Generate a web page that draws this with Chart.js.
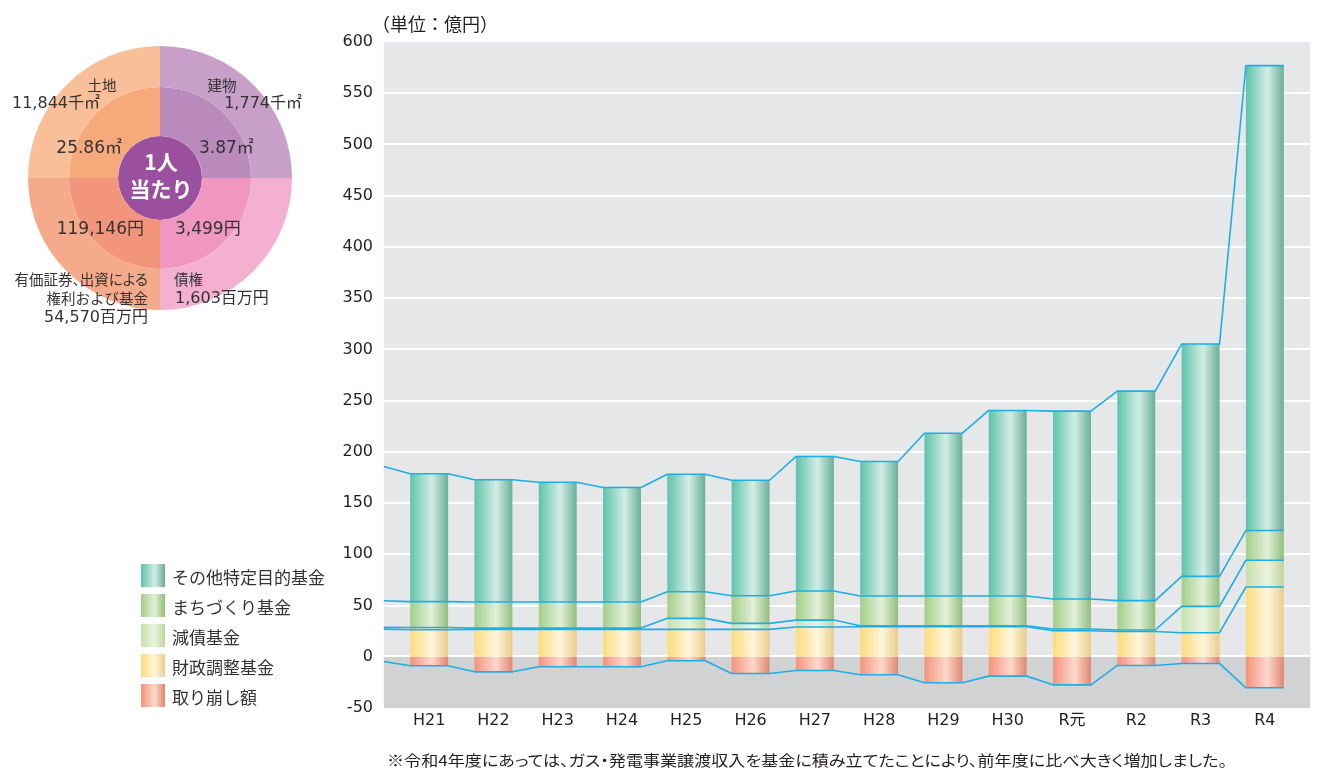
<!DOCTYPE html>
<html><head><meta charset="utf-8">
<script src="https://cdn.jsdelivr.net/npm/chart.js@4.4.1/dist/chart.umd.min.js"></script>
<style>
html,body{margin:0;padding:0;background:#fff;width:1318px;height:769px;overflow:hidden;}
#wrap{position:relative;width:1318px;height:769px;}
#main{position:absolute;left:0;top:0;}
#donutWrap{position:absolute;left:28px;top:46px;width:264px;height:264px;}
.t{position:absolute;white-space:nowrap;color:#333;font-family:"DejaVu Sans","Noto Sans CJK JP",sans-serif;line-height:1;}
.cj{font-family:"Noto Sans CJK JP",sans-serif;}
.palt{font-feature-settings:"palt";}
.sw{position:absolute;width:24px;height:23px;}
</style></head><body>
<div id="wrap">
<canvas id="main" width="1318" height="769"></canvas>
<div id="donutWrap"><canvas id="donut" width="264" height="264"></canvas></div>
<div id="labels"></div>
</div>
<script>
// ---- bar chart data (億円) ----
const years = ['H21','H22','H23','H24','H25','H26','H27','H28','H29','H30','R元','R2','R3','R4'];
const fiscalAdjust  = [26.3,26.7,26.7,26.7,26.7,26.7,29.0,29.3,29.3,29.3,25.4,24.7,23.5,68.1];
const debtReduction = [2.3,1.3,1.3,1.3,10.8,5.9,6.8,1.0,1.0,1.0,1.7,1.4,25.7,26.1];
const townDev       = [25.2,25.5,25.5,25.5,26.0,27.0,28.4,29.0,29.0,29.0,29.3,28.7,29.3,29.0];
const otherFunds    = [124.8,119.2,116.8,111.7,114.7,112.7,131.2,131.3,158.9,181.1,183.3,204.5,226.7,453.7];
const withdrawals   = [-8.8,-14.7,-9.8,-9.8,-3.9,-16.3,-13.4,-17.6,-25.4,-18.9,-27.4,-8.5,-6.5,-30.3];
// H20 values (where the connecting lines enter from the left edge), same order as the series above
const h20Values = [27.0, 1.7, 26.0, 131.0, -4.6];
const seriesNames = ['財政調整基金','減債基金','まちづくり基金','その他特定目的基金','取り崩し額'];

// ---- donut data ----
const donutCats = ['建物','債権','有価証券、出資による権利および基金','土地'];
const donutShare = [1,1,1,1];
const donutTotals = ['1,774千㎡','1,603百万円','54,570百万円','11,844千㎡'];
const donutPerCapita = ['3.87㎡','3,499円','119,146円','25.86㎡'];

const BAR_PCT = 0.59;
const grads = [
  ['#fddc7c','#fef6dc','#eacd8a'],
  ['#c5e0ad','#eaf4e0','#bfd59b'],
  ['#a2cf89','#e2f0d8','#91be7c'],
  ['#5ec3ab','#d3ede5','#67ae9a'],
  ['#f4937a','#fcd9cc','#df876f']
];
function barGradient(st){
  return (c)=>{
    const chart=c.chart, xs=chart.scales.x;
    if(!chart.chartArea||!xs||c.dataIndex===undefined) return st[1];
    const x=xs.getPixelForValue(c.dataIndex);
    const w=xs.width/years.length*BAR_PCT;
    const g=chart.ctx.createLinearGradient(x-w/2,0,x+w/2,0);
    g.addColorStop(0,st[0]); g.addColorStop(0.57,st[1]); g.addColorStop(1,st[2]);
    return g;
  };
}

const bgPlugin={id:'bg',beforeDatasetsDraw(chart){
  const {ctx,chartArea:a,scales:{x,y}}=chart;
  const step=x.getPixelForValue(1)-x.getPixelForValue(0);
  const half=step*BAR_PCT/2;
  const left=x.getPixelForValue(0)-step+half;
  const right=a.right+(a.left-left);
  const y0=y.getPixelForValue(0);
  ctx.save();
  ctx.fillStyle='#e6e7e8'; ctx.fillRect(left,a.top,right-left,y0-a.top);
  ctx.fillStyle='#d1d2d4'; ctx.fillRect(left,y0,right-left,a.bottom-y0);
  ctx.strokeStyle='#ffffff'; ctx.lineWidth=2;
  y.ticks.forEach(t=>{
    if(t.value>=0&&t.value<600){
      const py=Math.round(y.getPixelForValue(t.value))-(t.value===0?1:0);
      ctx.beginPath(); ctx.moveTo(left,py); ctx.lineTo(right,py); ctx.stroke();
    }
  });
  ctx.restore();
}};

const linesPlugin={id:'lines',afterDatasetsDraw(chart){
  const {ctx,scales:{y}}=chart;
  const bars=chart.getDatasetMeta(0).data;
  const half=bars[0].width/2;
  const step=bars[1].x-bars[0].x;
  const pos=[fiscalAdjust,debtReduction,townDev,otherFunds];
  const bounds=[]; let acc=years.map(()=>0), accPrev=0;
  pos.forEach((s,k)=>{acc=acc.map((v,i)=>v+s[i]); accPrev+=h20Values[k]; bounds.push({prev:accPrev,vals:acc.slice()});});
  bounds.push({prev:h20Values[4],vals:withdrawals});
  ctx.save(); ctx.strokeStyle='#1eaee6'; ctx.lineWidth=1.6; ctx.lineJoin='round';
  bounds.forEach(b=>{
    ctx.beginPath();
    ctx.moveTo(bars[0].x-step+half,y.getPixelForValue(b.prev));
    b.vals.forEach((v,i)=>{const py=y.getPixelForValue(v); ctx.lineTo(bars[i].x-half,py); ctx.lineTo(bars[i].x+half,py);});
    ctx.stroke();
  });
  ctx.restore();
}};

const tickFont={family:'"DejaVu Sans","Noto Sans CJK JP",sans-serif',size:16};
new Chart(document.getElementById('main'),{
  type:'bar',
  data:{labels:years,datasets:[
    {label:seriesNames[0],data:fiscalAdjust,backgroundColor:barGradient(grads[0])},
    {label:seriesNames[1],data:debtReduction,backgroundColor:barGradient(grads[1])},
    {label:seriesNames[2],data:townDev,backgroundColor:barGradient(grads[2])},
    {label:seriesNames[3],data:otherFunds,backgroundColor:barGradient(grads[3])},
    {label:seriesNames[4],data:withdrawals,backgroundColor:barGradient(grads[4])}
  ]},
  options:{
    responsive:false,animation:false,
    datasets:{bar:{categoryPercentage:1,barPercentage:BAR_PCT,borderWidth:0}},
    layout:{padding:{left:300,right:21,top:42,bottom:21}},
    plugins:{legend:{display:false},tooltip:{enabled:false}},
    scales:{
      x:{stacked:true,grid:{display:false,drawTicks:false},border:{display:false},
         ticks:{padding:3,color:'#231f20',font:tickFont,maxRotation:0,autoSkip:false},
         afterFit(s){s.height=40;}},
      y:{stacked:true,min:-50,max:600,grid:{display:false,drawTicks:false},border:{display:false},
         ticks:{stepSize:50,padding:24,color:'#231f20',font:tickFont},
         afterFit(s){s.width=97;}}
    }
  },
  plugins:[bgPlugin,linesPlugin]
});

new Chart(document.getElementById('donut'),{
  type:'doughnut',
  data:{labels:donutCats,datasets:[
    {data:donutShare,backgroundColor:['#c79fc9','#f3b0d1','#f6aa8c','#f9bf98'],weight:41},
    {data:donutShare,backgroundColor:['#b98abb','#ef97c1','#f3957a','#f6aa7c'],weight:49},
    {data:[1],backgroundColor:['#9b4f9f'],weight:42}
  ]},
  options:{responsive:false,animation:false,cutout:0,elements:{arc:{borderWidth:0}},
    plugins:{legend:{display:false},tooltip:{enabled:false}},layout:{padding:0}}
});

// ---- text ----
const L=document.getElementById('labels');
function label(text,x,y,o){
  o=o||{};
  const d=document.createElement('div');
  d.className='t'+(o.cj?' cj':'')+(o.palt?' palt':'');
  d.textContent=text;
  d.style.fontSize=(o.size||15)+'px';
  if(o.weight) d.style.fontWeight=o.weight;
  if(o.color) d.style.color=o.color;
  d.style.top=y+'px';
  const tx=o.align==='right'?'-100%':o.align==='center'?'-50%':'0';
  d.style.left=x+'px';
  d.style.transform=`translate(${tx},-50%)`;
  L.appendChild(d); return d;
}
// donut labels
label(donutCats[3],102,85,{align:'center',size:14.5,cj:true});
label(donutTotals[3],100,103,{align:'right',size:16});
label(donutCats[0],222,85,{align:'center',size:14.5,cj:true});
label(donutTotals[0],302,103,{align:'right',size:16});
label(donutPerCapita[3],122,147,{align:'right',size:17});
label(donutPerCapita[0],199,147,{size:17});
label(donutPerCapita[2],144,228,{align:'right',size:17});
label(donutPerCapita[1],175,228,{size:17});
label('有価証券、出資による',148,279,{align:'right',size:14.5,cj:true,palt:true});
label('権利および基金',148,298,{align:'right',size:14.5,cj:true});
label(donutTotals[2],148,317,{align:'right',size:16});
label(donutCats[1],174,279,{size:14.5,cj:true});
label(donutTotals[1],175,298,{size:16});
label('1人',161,161,{align:'center',size:21,weight:'bold',color:'#fff',cj:true});
label('当たり',161,188,{align:'center',size:21,weight:'bold',color:'#fff',cj:true});
// unit
label('（単位：億円）',372,23,{size:18,cj:true,color:'#231f20'});
// legend
const legOrder=[3,2,1,0,4];
legOrder.forEach((k,r)=>{
  const s=document.createElement('div'); s.className='sw';
  s.style.left='141px'; s.style.top=(564+r*30)+'px';
  s.style.background=`linear-gradient(to right, ${grads[k][0]}, ${grads[k][1]} 57%, ${grads[k][2]})`;
  L.appendChild(s);
  label(seriesNames[k],172,576+r*30,{size:17,cj:true,color:'#333'});
});
// footnote
const fn=label('※令和4年度にあっては、ガス・発電事業譲渡収入を基金に積み立てたことにより、前年度に比べ大きく増加しました。',387,759,{size:15,cj:true,palt:true,color:'#231f20'});
fn.style.transformOrigin='0 50%';
const fw=fn.getBoundingClientRect().width;
fn.style.transform=`translate(0,-50%) scaleX(${840/fw})`;
</script>
</body></html>
